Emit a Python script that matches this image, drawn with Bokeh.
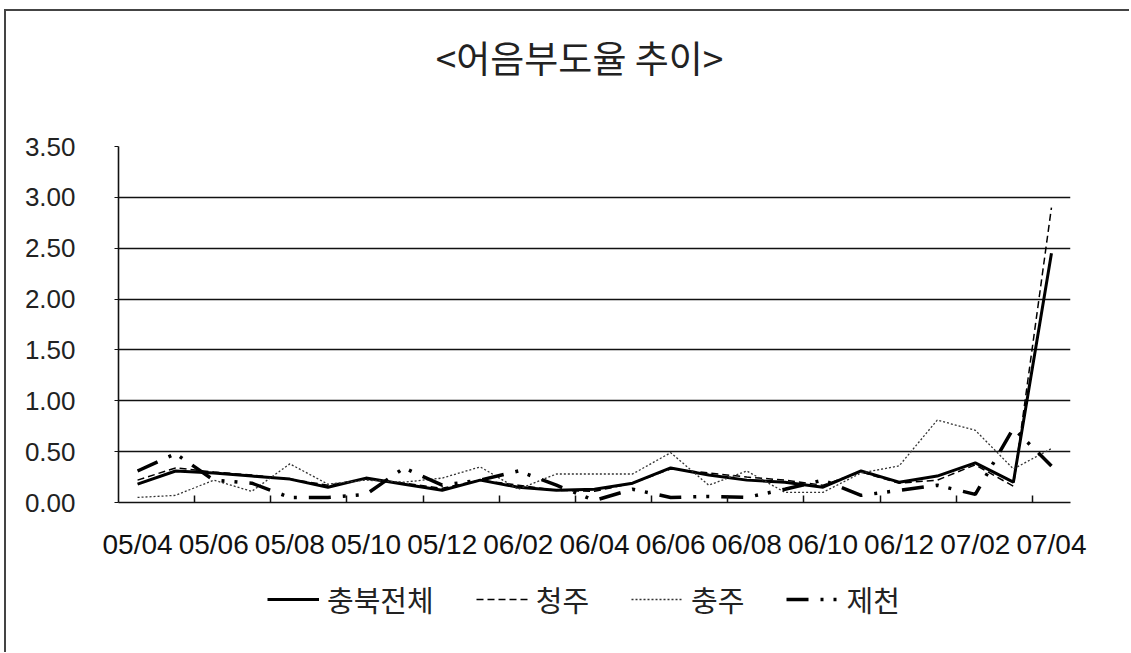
from bokeh.plotting import figure
from bokeh.layouts import column
from bokeh.models import FixedTicker, Legend, LegendItem, Range1d, NumeralTickFormatter, Label
from bokeh.embed import file_html
from bokeh.resources import INLINE

# ---- data ----
months = ["05/04", "05/05", "05/06", "05/07", "05/08", "05/09", "05/10", "05/11", "05/12",
          "06/01", "06/02", "06/03", "06/04", "06/05", "06/06", "06/07", "06/08", "06/09",
          "06/10", "06/11", "06/12", "07/01", "07/02", "07/03", "07/04"]
chungbuk = [0.18, 0.31, 0.29, 0.26, 0.23, 0.15, 0.24, 0.18, 0.12, 0.22, 0.15, 0.12, 0.13,
            0.19, 0.34, 0.27, 0.22, 0.20, 0.15, 0.31, 0.20, 0.26, 0.39, 0.20, 2.45]
cheongju = [0.22, 0.34, 0.30, 0.27, 0.23, 0.17, 0.23, 0.19, 0.14, 0.22, 0.17, 0.12, 0.11,
            0.19, 0.33, 0.29, 0.25, 0.22, 0.17, 0.30, 0.19, 0.22, 0.37, 0.16, 2.90]
chungju = [0.05, 0.07, 0.22, 0.11, 0.38, 0.18, 0.22, 0.20, 0.24, 0.35, 0.13, 0.28, 0.28,
           0.28, 0.49, 0.17, 0.31, 0.10, 0.10, 0.29, 0.36, 0.81, 0.71, 0.33, 0.53]
jecheon = [0.31, 0.48, 0.22, 0.19, 0.05, 0.05, 0.08, 0.34, 0.17, 0.22, 0.31, 0.17, 0.02,
           0.13, 0.05, 0.06, 0.05, 0.13, 0.22, 0.07, 0.12, 0.17, 0.08, 0.73, 0.36]
series_names = ["충북전체", "청주", "충주", "제천"]
title_text = "<어음부도율 추이>"
y_ticks = [0, 0.5, 1.0, 1.5, 2.0, 2.5, 3.0, 3.5]

styles = [dict(line_color="black", line_width=3),
          dict(line_color="black", line_width=1.5, line_dash="7 4"),
          dict(line_color="#333333", line_width=1.3, line_dash="2 2"),
          dict(line_color="black", line_width=3.5, line_dash="22 12 3 10 3 12")]
series = [chungbuk, cheongju, chungju, jecheon]

xs = list(range(len(months)))

OX, OY = 6, 11          # page position of the column's content (margin + border)
W = 1123
H0, H1, H2 = 100, 459, 82
FL, FR, FT, FB = 118, 1070, 146, 502   # frame edges on the page


def blank(h, yr=(0, 1)):
    f = figure(width=W, height=h, output_backend="svg", toolbar_location=None,
               x_axis_type=None, y_axis_type=None, x_range=Range1d(0, 1), y_range=Range1d(*yr),
               min_border=0)
    f.title.visible = False
    f.outline_line_color = None
    f.grid.visible = False
    f.background_fill_color = "white"
    f.border_fill_color = "white"
    return f


# ---- header with title (frames of the column are aligned to the main chart) ----
p0 = blank(H0)
p0.add_layout(Label(x=579 - FL, y=(OY + H0) - 59 + 3, x_units="screen", y_units="screen",
                    text=title_text, text_align="center", text_baseline="middle",
                    text_font="Noto Sans CJK KR", text_font_size="37px", text_color="#222222"))

# ---- main chart ----
top = OY + H0
p = figure(width=W, height=H1, output_backend="svg", toolbar_location=None,
           x_range=Range1d(-0.5, len(months) - 0.5), y_range=Range1d(0, 3.5),
           min_border_left=FL - OX, min_border_right=W - (FR - OX),
           min_border_top=FT - top, min_border_bottom=(top + H1) - FB)
p.title.visible = False
p.outline_line_color = None
p.background_fill_color = "white"
p.border_fill_color = "white"

p.xgrid.visible = False
p.ygrid.ticker = FixedTicker(ticks=y_ticks)
p.ygrid.grid_line_color = "#111111"
p.ygrid.grid_line_width = 1.6

p.yaxis.ticker = FixedTicker(ticks=y_ticks)
p.yaxis.formatter = NumeralTickFormatter(format="0.00")
p.yaxis.axis_line_color = "#111111"
p.yaxis.axis_line_width = 1.6
p.yaxis.major_tick_in = 0
p.yaxis.major_tick_out = 4
p.yaxis.major_tick_line_color = "#111111"
p.yaxis.minor_tick_line_color = None
p.yaxis.major_label_standoff = 39
p.yaxis.major_label_text_font = "Liberation Sans"
p.yaxis.major_label_text_font_size = "26px"
p.yaxis.major_label_text_color = "#222222"

label_idx = xs[::2]
p.xaxis.ticker = FixedTicker(ticks=label_idx, minor_ticks=[i + 1.5 for i in xs[:-1:2]])
p.xaxis.major_label_overrides = {i: months[i] for i in label_idx}
p.xaxis.axis_line_color = "#111111"
p.xaxis.axis_line_width = 1.6
p.xaxis.major_tick_line_color = None
p.xaxis.minor_tick_in = 7
p.xaxis.minor_tick_out = 0
p.xaxis.minor_tick_line_color = "#111111"
p.xaxis.minor_tick_line_width = 1.5
p.xaxis.major_label_standoff = 20
p.xaxis.major_label_text_font = "Liberation Sans"
p.xaxis.major_label_text_font_size = "28px"
p.xaxis.major_label_text_color = "#111111"

for ys, st in zip(series, styles):
    p.line(xs, ys, **st)

# ---- legend strip (same series, kept out of this strip's view; only legend shows) ----
p2 = blank(H2, yr=(100, 101))
leg_renderers = [p2.line(xs, ys, **st) for ys, st in zip(series, styles)]
legend = Legend(items=[LegendItem(label=n, renderers=[r]) for n, r in
                       zip(series_names, leg_renderers)],
                location=(267 - FL, 32), orientation="horizontal",
                glyph_width=52, glyph_height=24, label_standoff=8, spacing=42,
                label_text_font="Noto Sans CJK KR", label_text_font_size="29px",
                label_text_color="#222222", padding=0, margin=0,
                border_line_color=None, background_fill_alpha=0)
p2.add_layout(legend, "center")

layout = column(p0, p, p2, spacing=0)
layout.styles = {"border-left": "2px solid #444444", "border-top": "2px solid #444444",
                 "margin-left": "4px", "margin-top": "9px"}

open("out.html", "w").write(file_html(layout, INLINE))
